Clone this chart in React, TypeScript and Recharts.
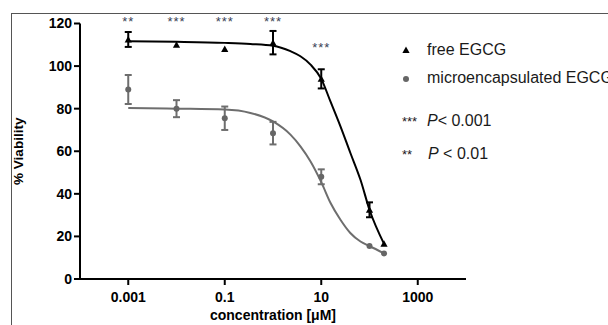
import {
  ComposedChart,
  Line,
  Scatter,
  XAxis,
  YAxis,
  ErrorBar,
  Legend,
  ReferenceDot,
  Label,
} from 'recharts';

// measured points (mean ± error), concentration in µM
const concentrations = [0.001, 0.01, 0.1, 1, 10, 100, 200];
const freeViability = [112.5, 110, 108, 111, 94, 32.5, 16.5];
const freeError = [3.5, 0, 0, 5.5, 4.5, 3.5, 0];
const microViability = [89, 80, 75.5, 68.5, 48, 15.5, 12];
const microError = [6.8, 4, 5.5, 5.3, 3.5, 0, 0];

// fitted dose-response curves
const fitConc = [0.001, 0.01, 0.1, 0.34, 1, 2.3, 3.7, 6, 10, 15.5, 25, 40, 65, 100, 200];
const freeFit = [111.7, 111.4, 110.9, 110.4, 109.6, 107, 104.6, 100.7, 94, 83.4, 71.7, 59.3, 46.6, 32.5, 16.5];
const microFit = [80.3, 80, 79.6, 78, 74, 67.8, 62.3, 55.2, 45.5, 35.8, 27.8, 21.6, 17.6, 15.5, 12];

// significance marks
const starConc = [0.001, 0.01, 0.1, 1, 10];
const starLevel = [122.4, 122.4, 122.4, 122.4, 110];
const starMarks = ['**', '***', '***', '***', '***'];

const xTicks = [0.001, 0.1, 10, 1000];
const yTicks = [0, 20, 40, 60, 80, 100, 120];

const FONT = 'Arial, "Liberation Sans", sans-serif';

const freePoints = concentrations.map((x, i) => ({ x, y: freeViability[i], err: freeError[i] }));
const microPoints = concentrations.map((x, i) => ({ x, y: microViability[i], err: microError[i] }));
const freeCurve = fitConc.map((x, i) => ({ x, y: freeFit[i] }));
const microCurve = fitConc.map((x, i) => ({ x, y: microFit[i] }));

function Triangle({ cx, cy, fill }: any) {
  return (
    <polygon
      points={`${cx},${cy - 3.5} ${cx - 3.6},${cy + 3} ${cx + 3.6},${cy + 3}`}
      fill={fill}
    />
  );
}

function Dot({ cx, cy, fill }: any) {
  return <circle cx={cx} cy={cy} r={3} fill={fill} />;
}

function LegendBox({ payload }: any) {
  const items = (payload || []).filter((p: any) => p.type !== 'none');
  return (
    <svg width={212} height={140} style={{ display: 'block', overflow: 'visible' }}>
      {items.map((p: any, i: number) => (
        <g key={p.value}>
          {p.type === 'triangle' ? (
            <Triangle cx={10} cy={15 + i * 29} fill={p.color} />
          ) : (
            <Dot cx={10} cy={15 + i * 29} fill={p.color} />
          )}
          <text x={31} y={20 + i * 28} fontSize={16} fill="#1a1a1a">
            {p.value}
          </text>
        </g>
      ))}
      <text x={6} y={91} fontSize={13} fill="#1a1a1a">***</text>
      <text x={31} y={91} fontSize={16} fill="#1a1a1a">
        <tspan fontStyle="italic">P</tspan>
        <tspan>{'< 0.001'}</tspan>
      </text>
      <text x={6} y={124} fontSize={13} fill="#1a1a1a">**</text>
      <text x={32} y={124} fontSize={16} fill="#1a1a1a">
        <tspan fontStyle="italic">P</tspan>
        <tspan>{' < 0.01'}</tspan>
      </text>
    </svg>
  );
}

export default function App() {
  return (
    <div
      style={{
        position: 'absolute',
        left: 0,
        top: 0,
        width: 608,
        height: 325,
        overflow: 'hidden',
        background: '#fff',
        fontFamily: FONT,
      }}
    >
      <div
        style={{
          position: 'absolute',
          left: 11,
          top: 13,
          width: 700,
          height: 400,
          borderTop: '1px solid #555',
          borderLeft: '1px solid #555',
        }}
      />
      <div style={{ position: 'absolute', left: 0, top: 0 }}>
        <ComposedChart
          width={608}
          height={325}
          margin={{ top: 23.5, right: 142, bottom: 0, left: 0 }}
        >
          <XAxis
            dataKey="x"
            type="number"
            scale="log"
            domain={[0.0001, 10000]}
            ticks={xTicks}
            tickFormatter={(v: number) => String(v)}
            height={46}
            axisLine={{ stroke: '#000', strokeWidth: 2 }}
            tickLine={{ stroke: '#000', strokeWidth: 2 }}
            tickSize={6}
            tickMargin={7}
            tick={{ fontSize: 14, fontWeight: 'bold', fill: '#000' }}
          >
            <Label
              value="concentration [μM]"
              position="insideBottom"
              offset={5}
              style={{ fontSize: 14, fontWeight: 'bold', fill: '#000' }}
            />
          </XAxis>
          <YAxis
            dataKey="y"
            type="number"
            domain={[0, 120]}
            ticks={yTicks}
            width={80}
            axisLine={{ stroke: '#000', strokeWidth: 2 }}
            tickLine={{ stroke: '#000', strokeWidth: 2 }}
            tickSize={6}
            tick={{ fontSize: 14, fontWeight: 'bold', fill: '#000' }}
            label={{
              content: ({ viewBox }: any) => {
                const cx = viewBox.x + 18;
                const cy = viewBox.y + viewBox.height / 2;
                return (
                  <text
                    x={cx}
                    y={cy}
                    transform={`rotate(-90 ${cx} ${cy})`}
                    textAnchor="middle"
                    dominantBaseline="central"
                    fontSize={13.5}
                    fontWeight="bold"
                    fill="#000"
                  >
                    % Viability
                  </text>
                );
              },
            }}
          />
          <Legend
            layout="vertical"
            align="center"
            verticalAlign="middle"
            wrapperStyle={{ left: 396, top: 35, width: 212 }}
            content={<LegendBox />}
          />
          <Line
            data={freeCurve}
            dataKey="y"
            type="monotone"
            stroke="#000"
            strokeWidth={2}
            dot={false}
            activeDot={false}
            legendType="none"
            isAnimationActive={false}
          />
          <Line
            data={microCurve}
            dataKey="y"
            type="monotone"
            stroke="#6e6e6e"
            strokeWidth={2}
            dot={false}
            activeDot={false}
            legendType="none"
            isAnimationActive={false}
          />
          <Scatter
            name="free EGCG"
            data={freePoints}
            fill="#000"
            legendType="triangle"
            shape={(p: any) => <Triangle {...p} fill="#000" />}
            isAnimationActive={false}
          >
            <ErrorBar dataKey="err" direction="y" width={3.5} stroke="#000" strokeWidth={2} />
          </Scatter>
          <Scatter
            name="microencapsulated EGCG"
            data={microPoints}
            fill="#666"
            legendType="circle"
            shape={(p: any) => <Dot {...p} fill="#666" />}
            isAnimationActive={false}
          >
            <ErrorBar dataKey="err" direction="y" width={3.5} stroke="#6e6e6e" strokeWidth={2} />
          </Scatter>
          {starConc.map((c, i) => (
            <ReferenceDot
              key={i}
              x={c}
              y={starLevel[i]}
              ifOverflow="visible"
              shape={(p: any) => (
                <text
                  x={p.cx}
                  y={p.cy + 7.5}
                  textAnchor="middle"
                  fontSize={13}
                  letterSpacing={1}
                  fill="#3a3f55"
                >
                  {starMarks[i]}
                </text>
              )}
            />
          ))}
        </ComposedChart>
      </div>
    </div>
  );
}
